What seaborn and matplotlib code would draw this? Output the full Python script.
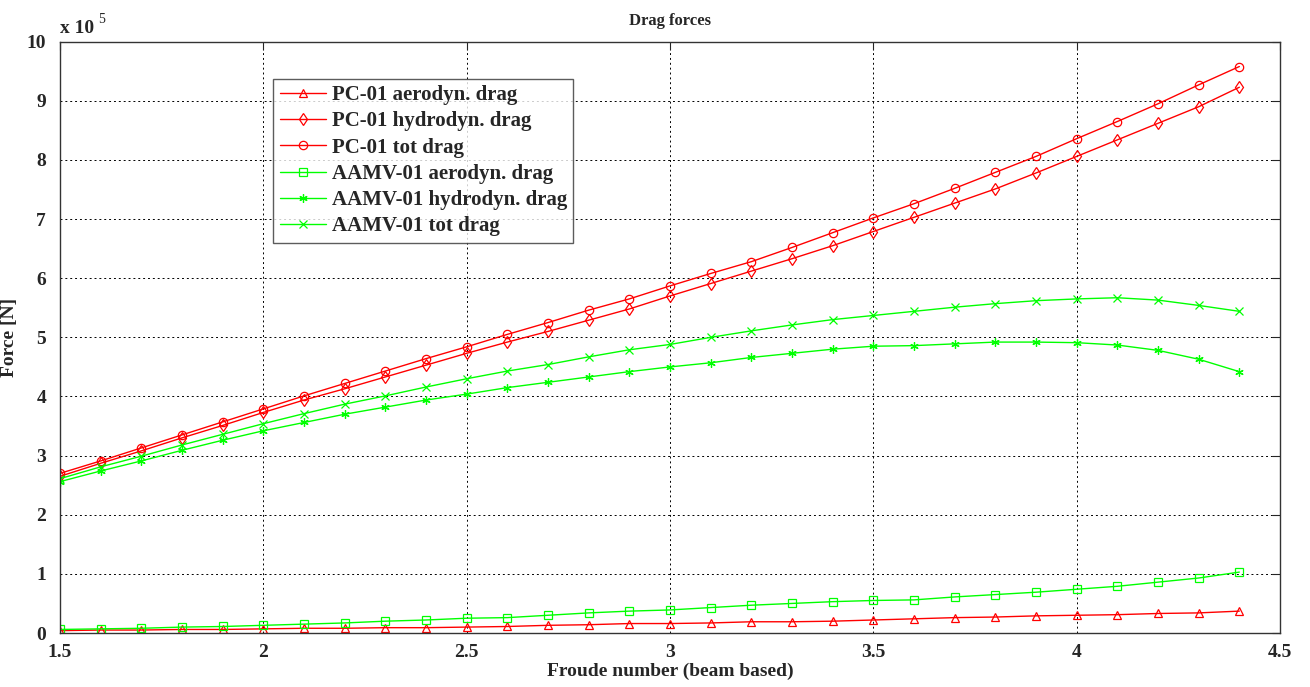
import matplotlib
matplotlib.use("Agg")
import matplotlib.pyplot as plt
import matplotlib.ticker as mticker
import seaborn as sns
import pandas as pd
import numpy as np

froude = [1.5, 1.6, 1.7, 1.8, 1.9, 2.0, 2.1, 2.2, 2.3, 2.4,
          2.5, 2.6, 2.7, 2.8, 2.9, 3.0, 3.1, 3.2, 3.3, 3.4,
          3.5, 3.6, 3.7, 3.8, 3.9, 4.0, 4.1, 4.2, 4.3, 4.4]

# forces in units of 1e5 N
pc_aero = [0.04, 0.05, 0.05, 0.06, 0.06, 0.07, 0.08, 0.08, 0.09, 0.09,
           0.10, 0.11, 0.13, 0.14, 0.16, 0.16, 0.17, 0.19, 0.19, 0.20,
           0.22, 0.24, 0.26, 0.27, 0.29, 0.30, 0.31, 0.33, 0.34, 0.37]
pc_hydro = [2.65, 2.87, 3.08, 3.30, 3.51, 3.73, 3.94, 4.13, 4.33, 4.53,
            4.73, 4.92, 5.10, 5.29, 5.48, 5.70, 5.91, 6.12, 6.33, 6.55,
            6.79, 7.03, 7.27, 7.51, 7.78, 8.06, 8.34, 8.62, 8.90, 9.23]
pc_tot = [2.70, 2.91, 3.13, 3.35, 3.57, 3.79, 4.01, 4.22, 4.43, 4.64,
          4.84, 5.05, 5.25, 5.46, 5.65, 5.87, 6.08, 6.28, 6.52, 6.77,
          7.02, 7.26, 7.52, 7.79, 8.06, 8.36, 8.65, 8.95, 9.27, 9.58]
aamv_aero = [0.06, 0.07, 0.08, 0.10, 0.11, 0.13, 0.15, 0.17, 0.20, 0.22,
             0.25, 0.26, 0.30, 0.34, 0.37, 0.39, 0.43, 0.47, 0.50, 0.53,
             0.55, 0.56, 0.61, 0.65, 0.69, 0.74, 0.79, 0.86, 0.93, 1.03]
aamv_hydro = [2.56, 2.74, 2.91, 3.09, 3.26, 3.42, 3.56, 3.70, 3.82, 3.94,
              4.04, 4.15, 4.24, 4.33, 4.42, 4.50, 4.57, 4.66, 4.73, 4.80,
              4.85, 4.86, 4.89, 4.92, 4.92, 4.91, 4.87, 4.78, 4.63, 4.42]
aamv_tot = [2.61, 2.81, 2.99, 3.18, 3.36, 3.54, 3.71, 3.87, 4.01, 4.16,
            4.30, 4.43, 4.54, 4.67, 4.79, 4.88, 5.00, 5.11, 5.21, 5.30,
            5.37, 5.44, 5.51, 5.57, 5.62, 5.65, 5.67, 5.63, 5.54, 5.44]

scale = 1e5

series = [
    ("PC-01 aerodyn. drag", pc_aero, "#ff0000", "^"),
    ("PC-01 hydrodyn. drag", pc_hydro, "#ff0000", "d"),
    ("PC-01 tot drag", pc_tot, "#ff0000", "o"),
    ("AAMV-01 aerodyn. drag", aamv_aero, "#00ff00", "s"),
    ("AAMV-01 hydrodyn. drag", aamv_hydro, "#00ff00", (6, 2, 0)),
    ("AAMV-01 tot drag", aamv_tot, "#00ff00", "x"),
]

sns.set_style("white")
plt.rcParams["font.family"] = ["Liberation Serif", "DejaVu Serif"]
plt.rcParams["font.weight"] = "bold"

fig = plt.figure(figsize=(13.1, 6.87), dpi=100)
ax = fig.add_axes([0.0458, 0.0786, 0.9313, 0.8607])

for label, vals, color, marker in series:
    df = pd.DataFrame({"Froude": froude, "Force": np.array(vals) * scale})
    sns.lineplot(
        data=df,
        x="Froude",
        y="Force",
        ax=ax,
        color=color,
        marker=marker,
        markersize=6,
        markerfacecolor="none",
        markeredgecolor=color,
        markeredgewidth=0.9,
        linewidth=1.0,
        label=label,
    )

ax.set_xlim(1.5, 4.5)
ax.set_ylim(0, 10 * scale)
ax.set_xticks(np.arange(1.5, 4.51, 0.5))
ax.set_yticks(np.arange(0, 10.01, 1) * scale)
ax.xaxis.set_major_formatter(mticker.FuncFormatter(lambda v, p: f"{v:g}"))
ax.yaxis.set_major_formatter(mticker.FuncFormatter(lambda v, p: f"{v / scale:g}"))
ax.tick_params(direction="in", top=True, right=True, length=6, labelsize=14)
ax.tick_params(axis="x", pad=8)
ax.tick_params(axis="y", pad=10)
for lab in ax.get_xticklabels() + ax.get_yticklabels():
    lab.set_fontweight("bold")

ax.grid(True, linestyle=(0, (2, 3)), color="black", linewidth=0.7)
for spine in ax.spines.values():
    spine.set_color("#333333")
    spine.set_linewidth(1.0)

ax.set_title("Drag forces", fontsize=12, fontweight="bold", pad=12)
ax.set_xlabel("Froude number (beam based)", fontsize=14, fontweight="bold", labelpad=1)
ax.set_ylabel("Force [N]", fontsize=14, fontweight="bold", labelpad=6)
ax.text(0.0, 1.008, "x 10", transform=ax.transAxes, fontsize=14,
        fontweight="bold", ha="left", va="bottom")
ax.text(0.031, 1.027, "5", transform=ax.transAxes, fontsize=10,
        fontweight="normal", ha="left", va="bottom")

leg = ax.legend(
    loc="upper left",
    bbox_to_anchor=(0.175, 0.937),
    fontsize=15,
    frameon=True,
    fancybox=False,
    edgecolor="#333333",
    borderpad=0.3,
    labelspacing=0.3,
    handlelength=2.2,
    handletextpad=0.3,
    borderaxespad=0.0,
)
leg.get_frame().set_linewidth(1.0)
for t in leg.get_texts():
    t.set_fontweight("bold")

fig.savefig("out.png", dpi=100)
